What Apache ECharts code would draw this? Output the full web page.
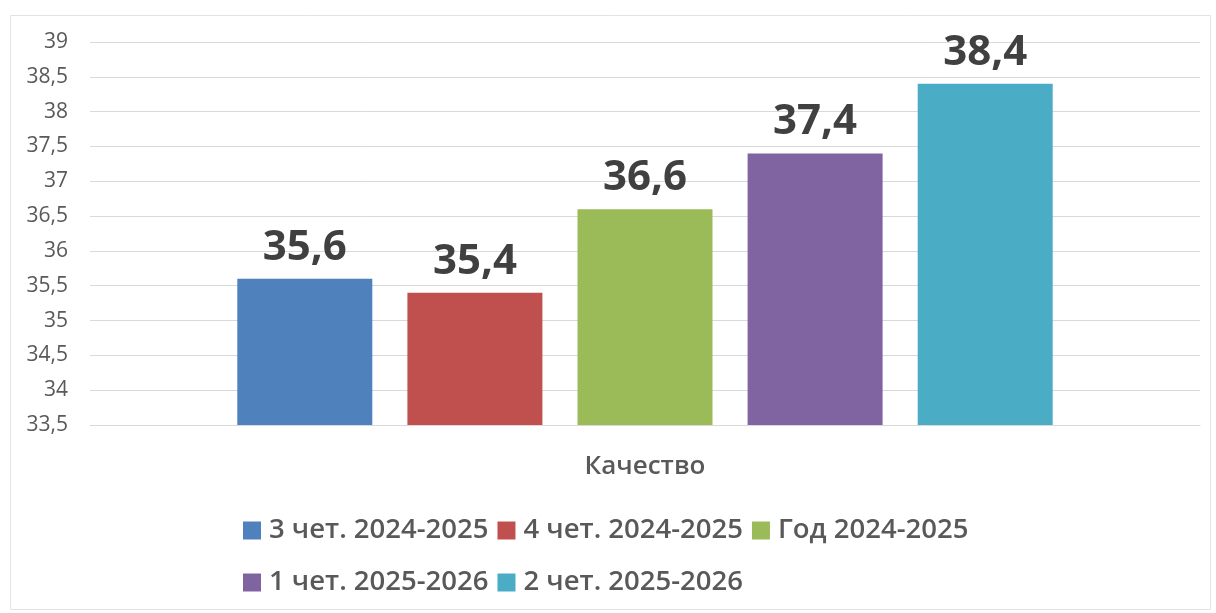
<!DOCTYPE html>
<html>
<head>
<meta charset="utf-8">
<script src="https://cdn.jsdelivr.net/npm/echarts@6/dist/echarts.min.js"></script>
<style>
html,body{margin:0;padding:0;background:#fff;}
#chart{width:1216px;height:613px;}
</style>
</head>
<body>
<div id="chart"></div>
<script>
const categories = ['Качество'];
const seriesNames = ['3 чет. 2024-2025', '4 чет. 2024-2025', 'Год 2024-2025', '1 чет. 2025-2026', '2 чет. 2025-2026'];
const seriesValues = [35.6, 35.4, 36.6, 37.4, 38.4];
const seriesColors = ['#4f81bd', '#c0504d', '#9bbb59', '#8064a2', '#4bacc6'];
const yMin = 33.5, yMax = 39, yInterval = 0.5;

const FONT = '"Open Sans", "Noto Sans", sans-serif';
const fmt = v => String(v).replace('.', ',');

const chart = echarts.init(document.getElementById('chart'), null, {renderer: 'canvas'});
chart.setOption({
  backgroundColor: '#ffffff',
  animation: false,
  graphic: [{
    type: 'rect', left: 8, top: 13, silent: true,
    shape: {width: 1200, height: 594},
    style: {fill: 'none', stroke: '#e3e3e3', lineWidth: 1}
  }],
  grid: {left: 90, right: 16, top: 42, bottom: 188, containLabel: false},
  legend: {
    left: 243, top: 509, width: 780, padding: 0,
    itemWidth: 18, itemHeight: 18, itemGap: 9,
    icon: 'rect',
    data: seriesNames,
    textStyle: {fontFamily: FONT, fontSize: 27.5, fontWeight: 600, color: '#595959', lineHeight: 43, padding: [0, 0, 0, 3]}
  },
  xAxis: {
    type: 'category',
    data: categories,
    axisLine: {show: true, lineStyle: {color: '#d9d9d9', width: 1}},
    axisTick: {show: false},
    axisLabel: {fontFamily: FONT, fontSize: 26, fontWeight: 600, color: '#595959', margin: 29}
  },
  yAxis: {
    type: 'value',
    min: yMin, max: yMax, interval: yInterval,
    axisLine: {show: false},
    axisTick: {show: false},
    splitLine: {lineStyle: {color: '#d9d9d9', width: 1}},
    axisLabel: {fontFamily: FONT, fontSize: 21, color: '#595959', margin: 22, formatter: v => fmt(v)}
  },
  series: seriesNames.map((name, i) => ({
    name: name,
    type: 'bar',
    data: [seriesValues[i]],
    barWidth: 135,
    barGap: '26%',
    itemStyle: {color: seriesColors[i]},
    label: {
      show: true, position: 'top', distance: 10,
      fontFamily: FONT, fontSize: 42, fontWeight: 'bold', color: '#404040',
      formatter: p => fmt(p.value)
    }
  }))
});
</script>
</body>
</html>
